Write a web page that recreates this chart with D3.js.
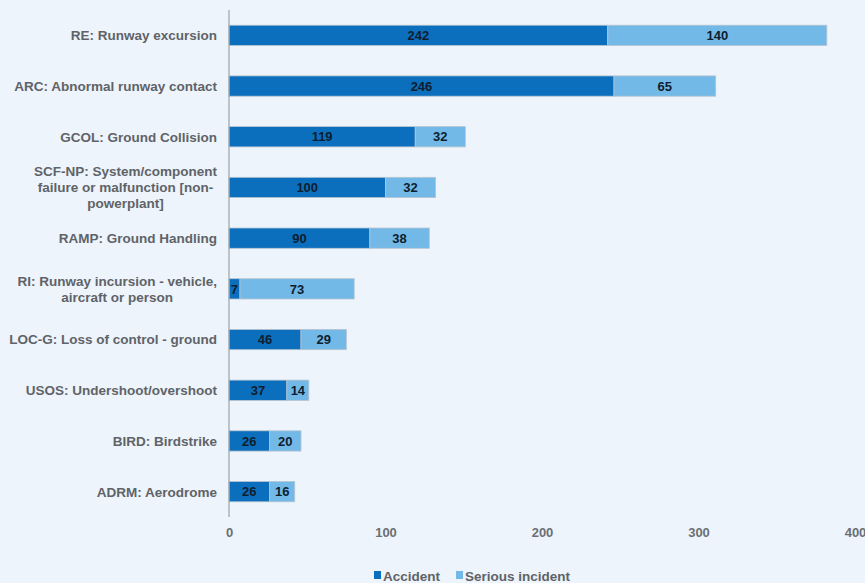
<!DOCTYPE html>
<html>
<head>
<meta charset="utf-8">
<script src="https://cdn.jsdelivr.net/npm/d3@7"></script>
<style>
  body { margin: 0; background: #edf4fb; }
  svg { display: block; font-family: "Liberation Sans", Arial, sans-serif; }
</style>
</head>
<body>
<div id="chart"></div>
<script>
// chart data
const categories = [
    ["RE: Runway excursion"],
    ["ARC: Abnormal runway contact"],
    ["GCOL: Ground Collision"],
    ["SCF-NP: System/component", "failure or malfunction [non-", "powerplant]"],
    ["RAMP: Ground Handling"],
    ["RI: Runway incursion - vehicle,", "aircraft or person"],
    ["LOC-G: Loss of control - ground"],
    ["USOS: Undershoot/overshoot"],
    ["BIRD: Birdstrike"],
    ["ADRM: Aerodrome"]
];
const accident = [242, 246, 119, 100, 90, 7, 46, 37, 26, 26];
const serious = [140, 65, 32, 32, 38, 73, 29, 14, 20, 16];
const seriesNames = ["Accident", "Serious incident"];
const xTicks = [0, 100, 200, 300, 400];

const width = 865;
const height = 583;
const colors = ["#0b6fbd", "#72b9e8"];

const svg = d3.select("#chart").append("svg")
    .attr("width", width)
    .attr("height", height);

const xScale = d3.scaleLinear().domain([0, 400]).range([229, 855]);
const yScale = d3.scaleBand()
    .domain(d3.range(categories.length))
    .range([10, 517])
    .paddingInner(0.6)
    .paddingOuter(0.3);

// stack the two series
const rows = categories.map((c, i) => ({ i: i, accident: accident[i], serious: serious[i] }));
const stack = d3.stack().keys(["accident", "serious"])(rows);

const layers = svg.append("g").selectAll("g")
    .data(stack)
    .enter()
    .append("g")
    .attr("fill", (d, k) => colors[k]);

layers.selectAll("rect")
    .data(d => d)
    .enter()
    .append("rect")
    .attr("x", d => xScale(d[0]))
    .attr("y", d => yScale(d.data.i))
    .attr("width", d => xScale(d[1]) - xScale(d[0]))
    .attr("height", yScale.bandwidth())
    .attr("stroke", "#b8c4cf")
    .attr("stroke-width", 0.8);

// value labels
layers.selectAll("text")
    .data(d => d)
    .enter()
    .append("text")
    .attr("x", d => (xScale(d[0]) + xScale(d[1])) / 2)
    .attr("y", d => yScale(d.data.i) + yScale.bandwidth() / 2)
    .attr("dy", "0.36em")
    .attr("text-anchor", "middle")
    .attr("font-size", 13)
    .attr("font-weight", "bold")
    .attr("fill", "#0e1d2e")
    .text(d => d[1] - d[0]);

// axis line
svg.append("line")
    .attr("x1", xScale(0)).attr("x2", xScale(0))
    .attr("y1", 10).attr("y2", 517)
    .attr("stroke", "#9aa3ab")
    .attr("stroke-width", 1.2);

// x tick labels
const xAxis = d3.axisBottom(xScale).tickValues(xTicks).tickSize(0).tickPadding(11);
svg.append("g")
    .attr("transform", "translate(0,517)")
    .call(xAxis)
    .call(g => g.select(".domain").remove())
    .selectAll("text")
    .attr("font-size", 13)
    .attr("font-weight", "bold")
    .attr("font-family", "Liberation Sans, Arial, sans-serif")
    .attr("fill", "#6b6f73");

// category labels, multi-line ones centred within a right-aligned block
const labelRight = 217;
const lineH = 16;
categories.forEach((lines, i) => {
    const g = svg.append("g");
    const texts = lines.map((t, j) => g.append("text")
        .attr("y", yScale(i) + yScale.bandwidth() / 2 + (j - (lines.length - 1) / 2) * lineH)
        .attr("dy", "0.36em")
        .attr("font-size", 13.5)
        .attr("font-weight", "bold")
        .attr("fill", "#5f6368")
        .attr("text-anchor", "middle")
        .text(t));
    const maxW = d3.max(texts, t => t.node().getComputedTextLength());
    texts.forEach(t => t.attr("x", labelRight - maxW / 2));
});

// legend
const legend = svg.append("g").attr("transform", "translate(374,576)");
let lx = 0;
seriesNames.forEach((name, k) => {
    legend.append("rect")
        .attr("x", lx).attr("y", -5)
        .attr("width", 7).attr("height", 8)
        .attr("fill", colors[k]);
    const t = legend.append("text")
        .attr("x", lx + 9)
        .attr("y", 0)
        .attr("dy", "0.36em")
        .attr("font-size", 13.5)
        .attr("font-weight", "bold")
        .attr("fill", "#5f6368")
        .text(name);
    lx += 9 + t.node().getComputedTextLength() + 16;
});
</script>
</body>
</html>
